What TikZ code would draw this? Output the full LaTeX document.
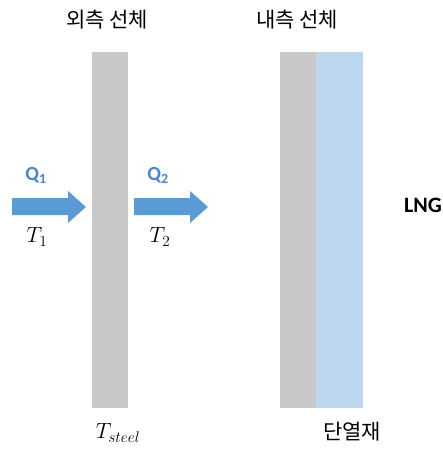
\RequirePackage{fix-cm}
\documentclass[tikz,border=0pt]{standalone}
\usepackage{fontspec}
\usepackage{tikz}
\usetikzlibrary{positioning}
\newfontfamily\kofont{Noto Sans CJK KR}
\newfontfamily\calfont{Carlito}
\definecolor{plategray}{HTML}{C8C8C8}
\definecolor{insulblue}{HTML}{BDD7EE}
\definecolor{heatblue}{HTML}{5B9BD5}
\definecolor{qblue}{HTML}{4A86C8}

\begin{document}
\begin{tikzpicture}[x=1pt,y=-1pt,
    plate/.style={fill=plategray,inner sep=0pt,anchor=north west,minimum height=356pt},
    kolabel/.style={font=\kofont\fontsize{21}{24}\selectfont},
    qlabel/.style={text=qblue,font=\calfont\bfseries\fontsize{20}{22}\selectfont},
    tlabel/.style={font=\fontsize{22}{24}\selectfont}]
\useasboundingbox (0,0) rectangle (442,450);
% steel plates
\node[plate,minimum width=36pt](outer) at (92,52){};
\node[plate,minimum width=36pt](inner) at (280,52){};
\node[plate,fill=insulblue,minimum width=47pt](insul) at ([xshift=-1pt]inner.north east){};
% heat flow
\foreach \dx in {0,122}
  \fill[heatblue,xshift=\dx pt] (12,198) -- (68,198) -- (68,191) -- (86,207)
       -- (68,223) -- (68,215) -- (12,215) -- cycle;
\node[qlabel](q1) at (36,175){Q\textsubscript{1}};
\node[qlabel](q2) at (158,175){Q\textsubscript{2}};
\node[tlabel](t1) at (37,237){$T_1$};
\node[tlabel](t2) at (160,237){$T_2$};
\node[tlabel](tsteel) at (118,433){$T_{steel}$};
% labels
\node[kolabel](outerlabel) at (107,20){외측 선체};
\node[kolabel](innerlabel) at (297,20){내측 선체};
\node[kolabel](insullabel) at (352,432){단열재};
\node[font=\calfont\bfseries\fontsize{22}{24}\selectfont](lng) at (423,205){LNG};
\end{tikzpicture}
\end{document}
